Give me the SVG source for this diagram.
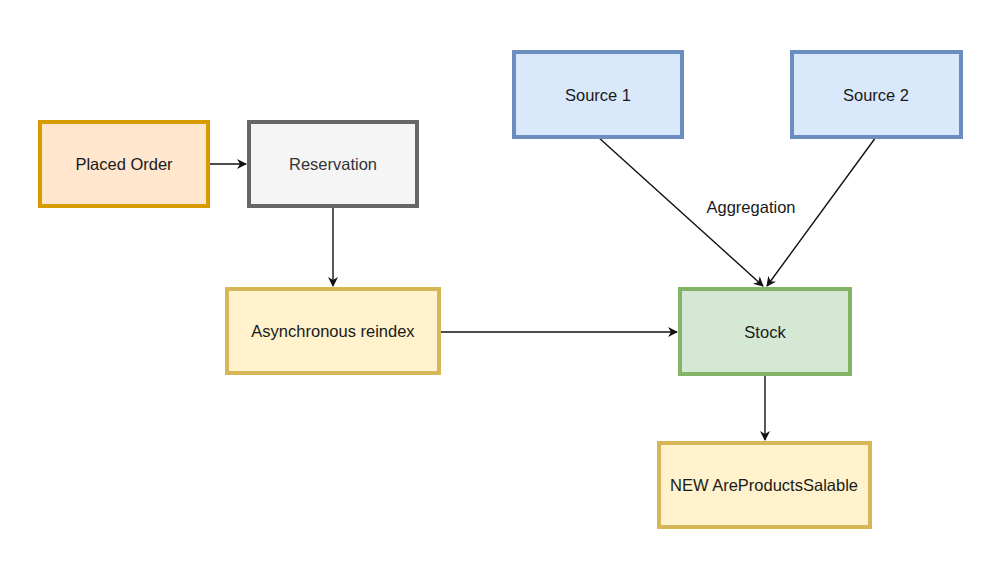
<svg xmlns="http://www.w3.org/2000/svg" width="999" height="575" viewBox="0 0 999 575">
<defs>
<style>
.box{stroke-width:4}
.lbl{font-family:"Liberation Sans",Arial,sans-serif;font-size:16.5px;fill:#1a1a1a;text-anchor:middle;dominant-baseline:central}
.edge{stroke:#111;stroke-width:1.4;fill:none;marker-end:url(#arr)}
</style>
<marker id="arr" viewBox="0 0 10 10" refX="9" refY="5" markerWidth="10" markerHeight="10" markerUnits="userSpaceOnUse" orient="auto">
<path d="M0,0 L10,5 L0,10 L3,5 Z" fill="#111"/>
</marker>
</defs>
<rect width="999" height="575" fill="#ffffff"/>
<g id="edges">
<line class="edge" x1="210" y1="164" x2="246" y2="164"/>
<line class="edge" x1="333" y1="208" x2="333" y2="286"/>
<line class="edge" x1="441" y1="332" x2="677" y2="332"/>
<line class="edge" x1="598" y1="137" x2="763" y2="286"/>
<line class="edge" x1="876" y1="137" x2="767" y2="286"/>
<line class="edge" x1="765" y1="376" x2="765" y2="440"/>
<text class="lbl" x="751" y="207">Aggregation</text>
</g>
<g id="placed-order">
<rect class="box" x="40" y="122" width="168" height="84" fill="#ffe6cc" stroke="#d79b00"/>
<text class="lbl" x="124" y="164">Placed Order</text>
</g>
<g id="reservation">
<rect class="box" x="249" y="122" width="168" height="84" fill="#f5f5f5" stroke="#666666"/>
<text class="lbl" x="333" y="164" style="fill:#333333">Reservation</text>
</g>
<g id="async-reindex">
<rect class="box" x="227" y="289" width="212" height="84" fill="#fff2cc" stroke="#d6b656"/>
<text class="lbl" x="333" y="331">Asynchronous reindex</text>
</g>
<g id="source1">
<rect class="box" x="514" y="52" width="168" height="85" fill="#dae8fc" stroke="#6c8ebf"/>
<text class="lbl" x="598" y="95">Source 1</text>
</g>
<g id="source2">
<rect class="box" x="792" y="52" width="169" height="85" fill="#dae8fc" stroke="#6c8ebf"/>
<text class="lbl" x="876" y="95">Source 2</text>
</g>
<g id="stock">
<rect class="box" x="680" y="289" width="170" height="85" fill="#d5e8d4" stroke="#82b366"/>
<text class="lbl" x="765" y="332">Stock</text>
</g>
<g id="new-are-products-salable">
<rect class="box" x="659" y="443" width="211" height="84" fill="#fff2cc" stroke="#d6b656"/>
<text class="lbl" x="764" y="485">NEW AreProductsSalable</text>
</g>
</svg>
